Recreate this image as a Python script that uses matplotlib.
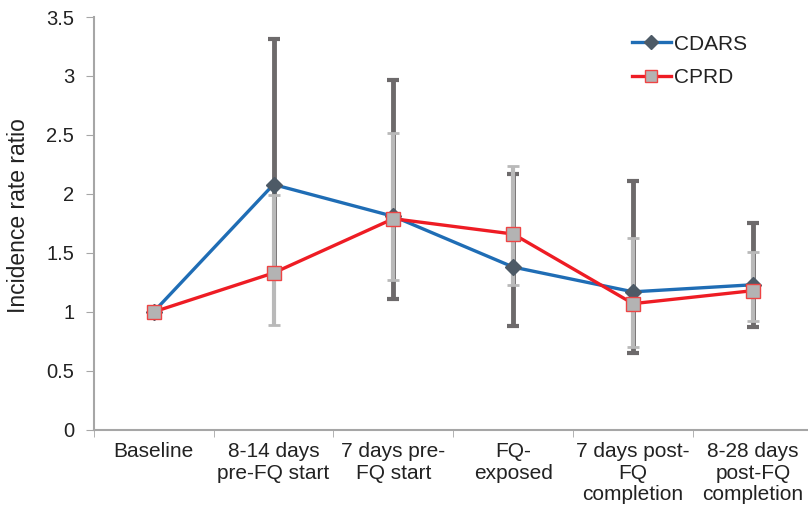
import numpy as np
import matplotlib.pyplot as plt

categories = ["Baseline", "8-14 days\npre-FQ start", "7 days pre-\nFQ start",
              "FQ-\nexposed", "7 days post-\nFQ\ncompletion", "8-28 days\npost-FQ\ncompletion"]

cdars = [1.00, 2.08, 1.81, 1.38, 1.17, 1.23]
cdars_lo = [1.00, 1.31, 1.11, 0.88, 0.65, 0.87]
cdars_hi = [1.00, 3.31, 2.97, 2.17, 2.11, 1.75]

cprd = [1.00, 1.33, 1.79, 1.66, 1.07, 1.18]
cprd_lo = [1.00, 0.89, 1.27, 1.23, 0.70, 0.92]
cprd_hi = [1.00, 1.99, 2.52, 2.24, 1.63, 1.51]

plt.rcParams['font.family'] = ['Liberation Sans', 'DejaVu Sans']

fig = plt.figure(figsize=(8.08, 5.16), dpi=100)
ax = fig.add_axes([0.116, 0.167, 0.89, 0.80])

x = np.arange(len(categories))
cdars = np.array(cdars)
cprd = np.array(cprd)

# error bars (baseline has none)
m = x > 0
ax.errorbar(x[m], cdars[m], yerr=[cdars[m] - np.array(cdars_lo)[m], np.array(cdars_hi)[m] - cdars[m]],
            fmt="none", ecolor="#6d6a6b", elinewidth=3.5, capsize=4.5, capthick=3, zorder=2)
ax.errorbar(x[m], cprd[m], yerr=[cprd[m] - np.array(cprd_lo)[m], np.array(cprd_hi)[m] - cprd[m]],
            fmt="none", ecolor="#b9b9b9", elinewidth=3, capsize=4, capthick=2, zorder=3)

ax.plot(x, cdars, color="#1f6db5", lw=2.4, marker="D", ms=8, mfc="#4d5a66", mec="#4d5a66",
        label="CDARS", zorder=4)
ax.plot(x, cprd, color="#ee1c24", lw=2.4, marker="s", ms=10, mfc="#b3b3b3", mec="#ee4444",
        mew=1, label="CPRD", zorder=5)

ax.set_xlim(-0.5, 5.5)
ax.set_ylim(0, 3.5)
ax.set_yticks(np.arange(0, 3.51, 0.5))
ax.set_yticklabels(["0", "0.5", "1", "1.5", "2", "2.5", "3", "3.5"])
ax.set_xticks(x)
ax.set_xticklabels(categories, fontsize=15, color="#222222", linespacing=1.15)
ax.set_xticks(np.arange(-0.5, 5.6, 1), minor=True)
ax.tick_params(axis="x", which="major", length=0, pad=9)
ax.tick_params(axis="x", which="minor", length=5, color="#a6a6a6", direction="out")
ax.tick_params(axis="y", length=6, color="#a6a6a6", labelsize=14.5, labelcolor="#222222", pad=8)
ax.set_ylabel("Incidence rate ratio", fontsize=16.5, color="#222222")
ax.yaxis.set_label_coords(-0.088, 0.52)

for s in ["top", "right"]:
    ax.spines[s].set_visible(False)
for s in ["left", "bottom"]:
    ax.spines[s].set_color("#a6a6a6")
    ax.spines[s].set_linewidth(1.5)

leg = ax.legend(loc="upper right", bbox_to_anchor=(0.935, 1.003), frameon=False, fontsize=15,
                handlelength=1.9, handletextpad=0.15, labelspacing=0.7, markerscale=0.9)
for t in leg.get_texts():
    t.set_color("#222222")

fig.savefig("out.png", dpi=100)
